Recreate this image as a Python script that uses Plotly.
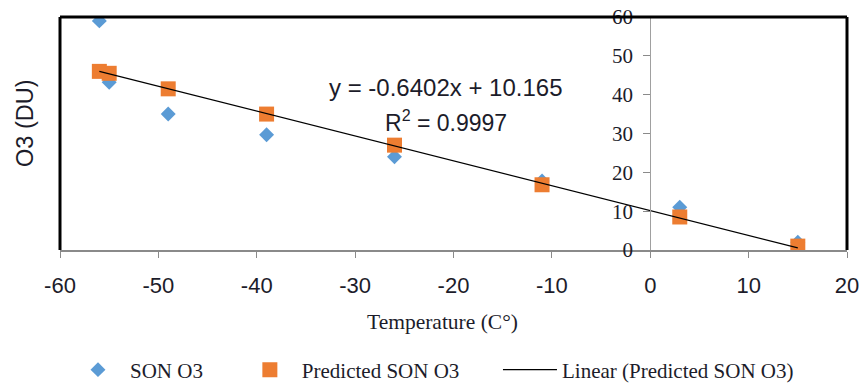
import plotly.graph_objects as go

# Temperature (°C) at each level and seasonal (SON) ozone
temperature = [-56, -55, -49, -39, -26, -11, 3, 15]
son_o3 = [59, 43.2, 35, 29.7, 24, 17.8, 11, 2]
predicted_son_o3 = [46.0, 45.5, 41.5, 35.0, 27.0, 16.8, 8.5, 1.0]

# Linear trend fitted to the predicted series
slope = -0.6402
intercept = 10.165
r_squared = 0.9997

x_ticks = [-60, -50, -40, -30, -20, -10, 0, 10, 20]
y_ticks = [0, 10, 20, 30, 40, 50, 60]

SANS = "Liberation Sans"
SERIF = "Liberation Serif"
TEXT = "#1c1c2a"

trend_x = [min(temperature), max(temperature)]
trend_y = [slope * v + intercept for v in trend_x]

fig = go.Figure()
fig.add_trace(go.Scatter(
    x=temperature, y=son_o3, mode="markers", name="SON O3",
    marker=dict(symbol="diamond", size=11.5, color="#5b9bd5"),
    legend="legend",
))
fig.add_trace(go.Scatter(
    x=temperature, y=predicted_son_o3, mode="markers", name="Predicted SON O3",
    marker=dict(symbol="square", size=15, color="#ed7d31"),
    legend="legend2",
))
fig.add_trace(go.Scatter(
    x=trend_x, y=trend_y, mode="lines", name="Linear (Predicted SON O3)",
    line=dict(color="black", width=1.2),
    legend="legend3",
))

legend_common = dict(
    orientation="h", yanchor="middle", y=-0.515, xanchor="left",
    itemwidth=54,
    font=dict(family=SERIF, size=21, color=TEXT),
    bgcolor="rgba(0,0,0,0)", borderwidth=0,
)

fig.update_layout(
    width=861, height=383,
    margin=dict(l=60, r=14, t=17, b=133, autoexpand=False),
    paper_bgcolor="white", plot_bgcolor="white",
    showlegend=True,
    legend=dict(x=0.0076, **legend_common),
    legend2=dict(x=0.226, **legend_common),
    legend3=dict(x=0.5565, **legend_common),
    xaxis=dict(
        range=[-60, 20], tickvals=x_ticks, ticktext=[str(v) for v in x_ticks],
        showgrid=False, zeroline=False,
        showline=True, linecolor="#8a8a8a", linewidth=2,
        ticks="outside", ticklen=6, tickcolor="#8a8a8a", tickwidth=1,
        tickfont=dict(family=SANS, size=22, color=TEXT),
        ticklabelstandoff=9,
    ),
    yaxis=dict(
        range=[0, 60], tickvals=y_ticks, ticktext=[str(v) for v in y_ticks],
        anchor="free", position=0.75,
        showgrid=False, zeroline=False,
        showline=True, linecolor="#a0a0a0", linewidth=1,
        ticks="outside", ticklen=7, tickcolor="#8a8a8a", tickwidth=1,
        tickfont=dict(family=SERIF, size=21, color=TEXT),
        ticklabelstandoff=6,
    ),
    shapes=[
        dict(type="line", xref="paper", yref="paper", x0=0, x1=0, y0=0, y1=1,
             line=dict(color="black", width=3)),
        dict(type="line", xref="paper", yref="paper", x0=0, x1=1, y0=1, y1=1,
             line=dict(color="black", width=3)),
        dict(type="line", xref="paper", yref="paper", x0=1, x1=1, y0=0, y1=1,
             line=dict(color="black", width=3)),
    ],
    annotations=[
        dict(text=f"y = {slope}x + {intercept}", x=-20.8, y=41.8,
             xref="x", yref="y", xanchor="center", yanchor="middle", showarrow=False,
             font=dict(family=SANS, size=24, color=TEXT)),
        dict(text=f"R<sup>2</sup> = {r_squared}", x=-20.8, y=33.2,
             xref="x", yref="y", xanchor="center", yanchor="middle", showarrow=False,
             font=dict(family=SANS, size=23, color=TEXT)),
        dict(text="O3 (DU)", x=-0.0445, y=0.545, xref="paper", yref="paper",
             xanchor="center", yanchor="middle", textangle=-90, showarrow=False,
             font=dict(family=SANS, size=23.5, color=TEXT)),
        dict(text="Temperature (C°)", x=0.4866, y=-0.309, xref="paper", yref="paper",
             xanchor="center", yanchor="middle", showarrow=False,
             font=dict(family=SERIF, size=21.5, color=TEXT)),
    ],
)

fig.write_html("out.html")
